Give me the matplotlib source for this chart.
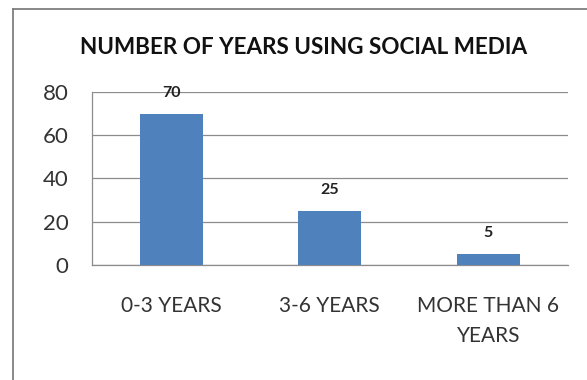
import matplotlib
matplotlib.use("Agg")
import matplotlib.pyplot as plt
from matplotlib.lines import Line2D

categories = ["0-3 YEARS", "3-6 YEARS", "MORE THAN 6\nYEARS"]
values = [70, 25, 5]
yticks = [0, 20, 40, 60, 80]
title = "NUMBER OF YEARS USING SOCIAL MEDIA"

plt.rcParams['font.family'] = ['Lato', 'DejaVu Sans']

fig = plt.figure(figsize=(5.87, 3.80), dpi=100)
fig.patch.set_facecolor("white")
ax = fig.add_axes([92/587, 1-265/380, (567.5-92)/587, (265-92)/380])

x = list(range(len(categories)))
bars = ax.bar(x, values, width=0.40, color="#4F81BD", zorder=3)
ax.set_xlim(-0.5, len(categories)-0.5)
ax.set_ylim(0, 80)
ax.set_yticks(yticks)
ax.set_yticklabels([str(t) for t in yticks], fontsize=16, color="#333333")
ax.set_xticks(x)
ax.set_xticklabels(categories, fontsize=15, color="#333333", linespacing=1.65)
ax.tick_params(axis='y', length=0, pad=17)
ax.tick_params(axis='x', length=0, pad=22)
for t in ax.get_xticklabels():
    t.set_verticalalignment('top')

ax.grid(axis='y', color="#8c8c8c", linewidth=0.9, zorder=0)
for s in ["top", "right"]:
    ax.spines[s].set_visible(False)
for s in ["left", "bottom"]:
    ax.spines[s].set_color("#8c8c8c")
    ax.spines[s].set_linewidth(0.9)

for xi, v in zip(x, values):
    ax.annotate(str(v), (xi, v), xytext=(0, 15), textcoords="offset points",
                ha="center", va="center", fontsize=11.5, fontweight="bold", color="#222222")

fig.text(304/587, 1-47/380, title, ha="center", va="center",
         fontsize=16.2, fontweight="bold", color="#111111")

# outer chart frame (partially cut off)
fx = 13/587
fy = 1-9/380
fig.add_artist(Line2D([fx, fx], [0, fy], transform=fig.transFigure, color="#7f7f7f", linewidth=1.3))
fig.add_artist(Line2D([fx, 1], [fy, fy], transform=fig.transFigure, color="#7f7f7f", linewidth=1.3))

fig.savefig("out.png", dpi=100)
